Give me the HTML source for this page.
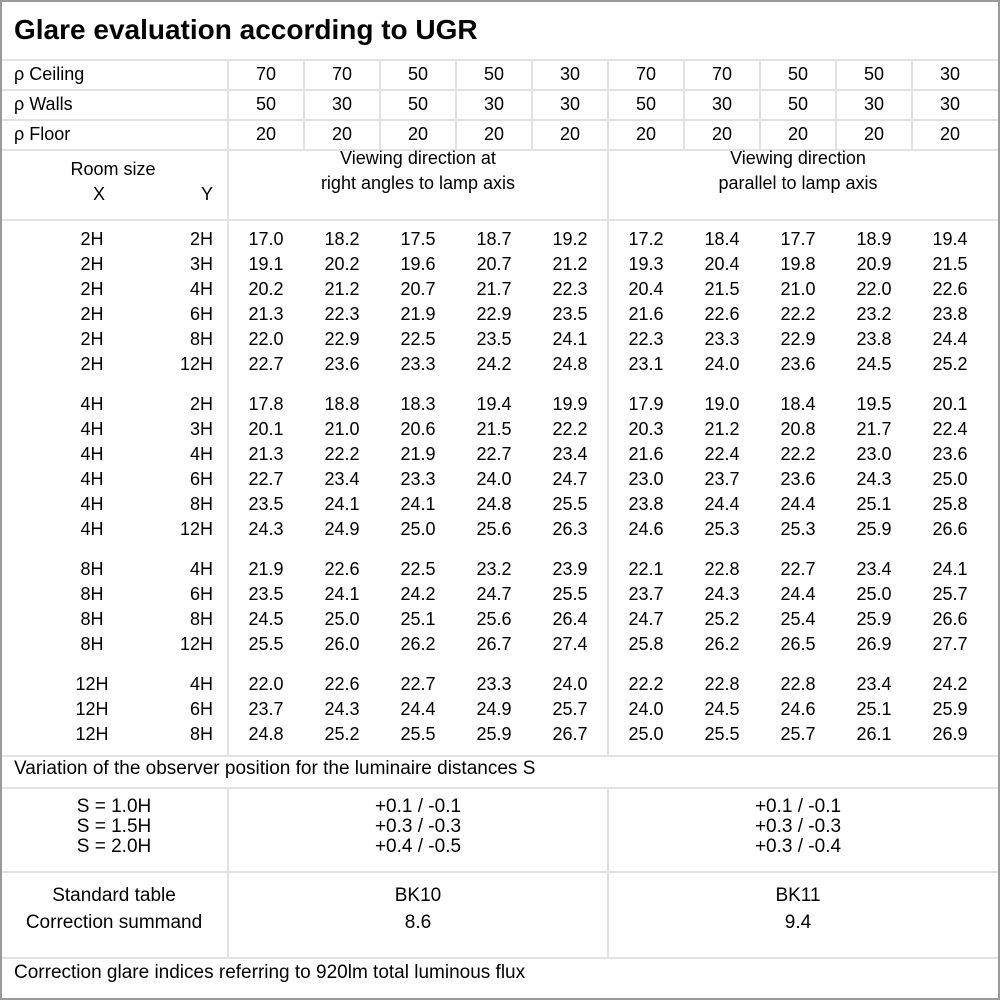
<!DOCTYPE html>
<html><head><meta charset="utf-8"><style>
body{margin:0;background:#fff;}
#c{position:relative;width:1000px;height:1000px;overflow:hidden;font-family:"Liberation Sans","DejaVu Sans",sans-serif;font-size:18px;color:#000;}
.b{position:absolute;left:0;top:0;width:996px;height:996px;border:2px solid #9a9a9a;}
.h{position:absolute;left:2px;width:996px;height:2px;background:#e2e2e2;}
.v{position:absolute;width:2px;background:#e2e2e2;}
.t{position:absolute;white-space:nowrap;line-height:20px;}
.r{position:absolute;left:0;height:20px;line-height:20px;white-space:nowrap;}
.r span{position:absolute;top:0;text-align:center;width:76px;}
.r .x{left:42px;width:100px;}
.r .y{left:113px;width:100px;text-align:right;}
</style></head><body><div id="c">
<div class="b"></div>
<div class="t" style="left:14px;top:15px;font-size:28px;font-weight:bold;line-height:30px">Glare evaluation according to UGR</div>
<div class="h" style="top:59px"></div>
<div class="h" style="top:89px"></div>
<div class="h" style="top:119px"></div>
<div class="h" style="top:149px"></div>
<div class="h" style="top:219px"></div>
<div class="h" style="top:755px"></div>
<div class="h" style="top:787px"></div>
<div class="h" style="top:871px"></div>
<div class="h" style="top:957px"></div>
<div class="v" style="left:227px;top:60px;height:696px"></div>
<div class="v" style="left:227px;top:788px;height:170px"></div>
<div class="v" style="left:607px;top:150px;height:606px"></div>
<div class="v" style="left:607px;top:788px;height:170px"></div>
<div class="v" style="left:303px;top:60px;height:90px"></div>
<div class="v" style="left:379px;top:60px;height:90px"></div>
<div class="v" style="left:455px;top:60px;height:90px"></div>
<div class="v" style="left:531px;top:60px;height:90px"></div>
<div class="v" style="left:607px;top:60px;height:90px"></div>
<div class="v" style="left:683px;top:60px;height:90px"></div>
<div class="v" style="left:759px;top:60px;height:90px"></div>
<div class="v" style="left:835px;top:60px;height:90px"></div>
<div class="v" style="left:911px;top:60px;height:90px"></div>

<div class="r" style="top:64px"><span style="left:14px;text-align:left;width:200px">ρ Ceiling</span><span style="left:228px">70</span><span style="left:304px">70</span><span style="left:380px">50</span><span style="left:456px">50</span><span style="left:532px">30</span><span style="left:608px">70</span><span style="left:684px">70</span><span style="left:760px">50</span><span style="left:836px">50</span><span style="left:912px">30</span></div>
<div class="r" style="top:94px"><span style="left:14px;text-align:left;width:200px">ρ Walls</span><span style="left:228px">50</span><span style="left:304px">30</span><span style="left:380px">50</span><span style="left:456px">30</span><span style="left:532px">30</span><span style="left:608px">50</span><span style="left:684px">30</span><span style="left:760px">50</span><span style="left:836px">30</span><span style="left:912px">30</span></div>
<div class="r" style="top:124px"><span style="left:14px;text-align:left;width:200px">ρ Floor</span><span style="left:228px">20</span><span style="left:304px">20</span><span style="left:380px">20</span><span style="left:456px">20</span><span style="left:532px">20</span><span style="left:608px">20</span><span style="left:684px">20</span><span style="left:760px">20</span><span style="left:836px">20</span><span style="left:912px">20</span></div>

<div class="t" style="left:13px;top:159px;width:200px;text-align:center">Room size</div>
<div class="t" style="left:49px;top:184px;width:100px;text-align:center">X</div>
<div class="t" style="left:113px;top:184px;width:100px;text-align:right">Y</div>
<div class="t" style="left:228px;top:146px;width:380px;text-align:center;line-height:25px">Viewing direction at<br>right angles to lamp axis</div>
<div class="t" style="left:608px;top:146px;width:380px;text-align:center;line-height:25px">Viewing direction<br>parallel to lamp axis</div>

<div class="r" style="top:229px"><span class="x">2H</span><span class="y">2H</span><span style="left:228px">17.0</span><span style="left:304px">18.2</span><span style="left:380px">17.5</span><span style="left:456px">18.7</span><span style="left:532px">19.2</span><span style="left:608px">17.2</span><span style="left:684px">18.4</span><span style="left:760px">17.7</span><span style="left:836px">18.9</span><span style="left:912px">19.4</span></div>
<div class="r" style="top:254px"><span class="x">2H</span><span class="y">3H</span><span style="left:228px">19.1</span><span style="left:304px">20.2</span><span style="left:380px">19.6</span><span style="left:456px">20.7</span><span style="left:532px">21.2</span><span style="left:608px">19.3</span><span style="left:684px">20.4</span><span style="left:760px">19.8</span><span style="left:836px">20.9</span><span style="left:912px">21.5</span></div>
<div class="r" style="top:279px"><span class="x">2H</span><span class="y">4H</span><span style="left:228px">20.2</span><span style="left:304px">21.2</span><span style="left:380px">20.7</span><span style="left:456px">21.7</span><span style="left:532px">22.3</span><span style="left:608px">20.4</span><span style="left:684px">21.5</span><span style="left:760px">21.0</span><span style="left:836px">22.0</span><span style="left:912px">22.6</span></div>
<div class="r" style="top:304px"><span class="x">2H</span><span class="y">6H</span><span style="left:228px">21.3</span><span style="left:304px">22.3</span><span style="left:380px">21.9</span><span style="left:456px">22.9</span><span style="left:532px">23.5</span><span style="left:608px">21.6</span><span style="left:684px">22.6</span><span style="left:760px">22.2</span><span style="left:836px">23.2</span><span style="left:912px">23.8</span></div>
<div class="r" style="top:329px"><span class="x">2H</span><span class="y">8H</span><span style="left:228px">22.0</span><span style="left:304px">22.9</span><span style="left:380px">22.5</span><span style="left:456px">23.5</span><span style="left:532px">24.1</span><span style="left:608px">22.3</span><span style="left:684px">23.3</span><span style="left:760px">22.9</span><span style="left:836px">23.8</span><span style="left:912px">24.4</span></div>
<div class="r" style="top:354px"><span class="x">2H</span><span class="y">12H</span><span style="left:228px">22.7</span><span style="left:304px">23.6</span><span style="left:380px">23.3</span><span style="left:456px">24.2</span><span style="left:532px">24.8</span><span style="left:608px">23.1</span><span style="left:684px">24.0</span><span style="left:760px">23.6</span><span style="left:836px">24.5</span><span style="left:912px">25.2</span></div>

<div class="r" style="top:394px"><span class="x">4H</span><span class="y">2H</span><span style="left:228px">17.8</span><span style="left:304px">18.8</span><span style="left:380px">18.3</span><span style="left:456px">19.4</span><span style="left:532px">19.9</span><span style="left:608px">17.9</span><span style="left:684px">19.0</span><span style="left:760px">18.4</span><span style="left:836px">19.5</span><span style="left:912px">20.1</span></div>
<div class="r" style="top:419px"><span class="x">4H</span><span class="y">3H</span><span style="left:228px">20.1</span><span style="left:304px">21.0</span><span style="left:380px">20.6</span><span style="left:456px">21.5</span><span style="left:532px">22.2</span><span style="left:608px">20.3</span><span style="left:684px">21.2</span><span style="left:760px">20.8</span><span style="left:836px">21.7</span><span style="left:912px">22.4</span></div>
<div class="r" style="top:444px"><span class="x">4H</span><span class="y">4H</span><span style="left:228px">21.3</span><span style="left:304px">22.2</span><span style="left:380px">21.9</span><span style="left:456px">22.7</span><span style="left:532px">23.4</span><span style="left:608px">21.6</span><span style="left:684px">22.4</span><span style="left:760px">22.2</span><span style="left:836px">23.0</span><span style="left:912px">23.6</span></div>
<div class="r" style="top:469px"><span class="x">4H</span><span class="y">6H</span><span style="left:228px">22.7</span><span style="left:304px">23.4</span><span style="left:380px">23.3</span><span style="left:456px">24.0</span><span style="left:532px">24.7</span><span style="left:608px">23.0</span><span style="left:684px">23.7</span><span style="left:760px">23.6</span><span style="left:836px">24.3</span><span style="left:912px">25.0</span></div>
<div class="r" style="top:494px"><span class="x">4H</span><span class="y">8H</span><span style="left:228px">23.5</span><span style="left:304px">24.1</span><span style="left:380px">24.1</span><span style="left:456px">24.8</span><span style="left:532px">25.5</span><span style="left:608px">23.8</span><span style="left:684px">24.4</span><span style="left:760px">24.4</span><span style="left:836px">25.1</span><span style="left:912px">25.8</span></div>
<div class="r" style="top:519px"><span class="x">4H</span><span class="y">12H</span><span style="left:228px">24.3</span><span style="left:304px">24.9</span><span style="left:380px">25.0</span><span style="left:456px">25.6</span><span style="left:532px">26.3</span><span style="left:608px">24.6</span><span style="left:684px">25.3</span><span style="left:760px">25.3</span><span style="left:836px">25.9</span><span style="left:912px">26.6</span></div>

<div class="r" style="top:559px"><span class="x">8H</span><span class="y">4H</span><span style="left:228px">21.9</span><span style="left:304px">22.6</span><span style="left:380px">22.5</span><span style="left:456px">23.2</span><span style="left:532px">23.9</span><span style="left:608px">22.1</span><span style="left:684px">22.8</span><span style="left:760px">22.7</span><span style="left:836px">23.4</span><span style="left:912px">24.1</span></div>
<div class="r" style="top:584px"><span class="x">8H</span><span class="y">6H</span><span style="left:228px">23.5</span><span style="left:304px">24.1</span><span style="left:380px">24.2</span><span style="left:456px">24.7</span><span style="left:532px">25.5</span><span style="left:608px">23.7</span><span style="left:684px">24.3</span><span style="left:760px">24.4</span><span style="left:836px">25.0</span><span style="left:912px">25.7</span></div>
<div class="r" style="top:609px"><span class="x">8H</span><span class="y">8H</span><span style="left:228px">24.5</span><span style="left:304px">25.0</span><span style="left:380px">25.1</span><span style="left:456px">25.6</span><span style="left:532px">26.4</span><span style="left:608px">24.7</span><span style="left:684px">25.2</span><span style="left:760px">25.4</span><span style="left:836px">25.9</span><span style="left:912px">26.6</span></div>
<div class="r" style="top:634px"><span class="x">8H</span><span class="y">12H</span><span style="left:228px">25.5</span><span style="left:304px">26.0</span><span style="left:380px">26.2</span><span style="left:456px">26.7</span><span style="left:532px">27.4</span><span style="left:608px">25.8</span><span style="left:684px">26.2</span><span style="left:760px">26.5</span><span style="left:836px">26.9</span><span style="left:912px">27.7</span></div>

<div class="r" style="top:674px"><span class="x">12H</span><span class="y">4H</span><span style="left:228px">22.0</span><span style="left:304px">22.6</span><span style="left:380px">22.7</span><span style="left:456px">23.3</span><span style="left:532px">24.0</span><span style="left:608px">22.2</span><span style="left:684px">22.8</span><span style="left:760px">22.8</span><span style="left:836px">23.4</span><span style="left:912px">24.2</span></div>
<div class="r" style="top:699px"><span class="x">12H</span><span class="y">6H</span><span style="left:228px">23.7</span><span style="left:304px">24.3</span><span style="left:380px">24.4</span><span style="left:456px">24.9</span><span style="left:532px">25.7</span><span style="left:608px">24.0</span><span style="left:684px">24.5</span><span style="left:760px">24.6</span><span style="left:836px">25.1</span><span style="left:912px">25.9</span></div>
<div class="r" style="top:724px"><span class="x">12H</span><span class="y">8H</span><span style="left:228px">24.8</span><span style="left:304px">25.2</span><span style="left:380px">25.5</span><span style="left:456px">25.9</span><span style="left:532px">26.7</span><span style="left:608px">25.0</span><span style="left:684px">25.5</span><span style="left:760px">25.7</span><span style="left:836px">26.1</span><span style="left:912px">26.9</span></div>

<div class="t" style="left:14px;top:759px;font-size:19px">Variation of the observer position for the luminaire distances S</div>
<div class="t" style="left:0;top:797px;width:228px;text-align:center;font-size:19px">S = 1.0H<br>S = 1.5H<br>S = 2.0H</div>
<div class="t" style="left:228px;top:797px;width:380px;text-align:center;font-size:19px">+0.1 / -0.1<br>+0.3 / -0.3<br>+0.4 / -0.5</div>
<div class="t" style="left:608px;top:797px;width:380px;text-align:center;font-size:19px">+0.1 / -0.1<br>+0.3 / -0.3<br>+0.3 / -0.4</div>
<div class="t" style="left:0;top:882px;width:228px;text-align:center;line-height:27px;font-size:19px">Standard table<br>Correction summand</div>
<div class="t" style="left:228px;top:882px;width:380px;text-align:center;line-height:27px;font-size:19px">BK10<br>8.6</div>
<div class="t" style="left:608px;top:882px;width:380px;text-align:center;line-height:27px;font-size:19px">BK11<br>9.4</div>
<div class="t" style="left:14px;top:963px;font-size:19px">Correction glare indices referring to 920lm total luminous flux</div>
</div></body></html>
